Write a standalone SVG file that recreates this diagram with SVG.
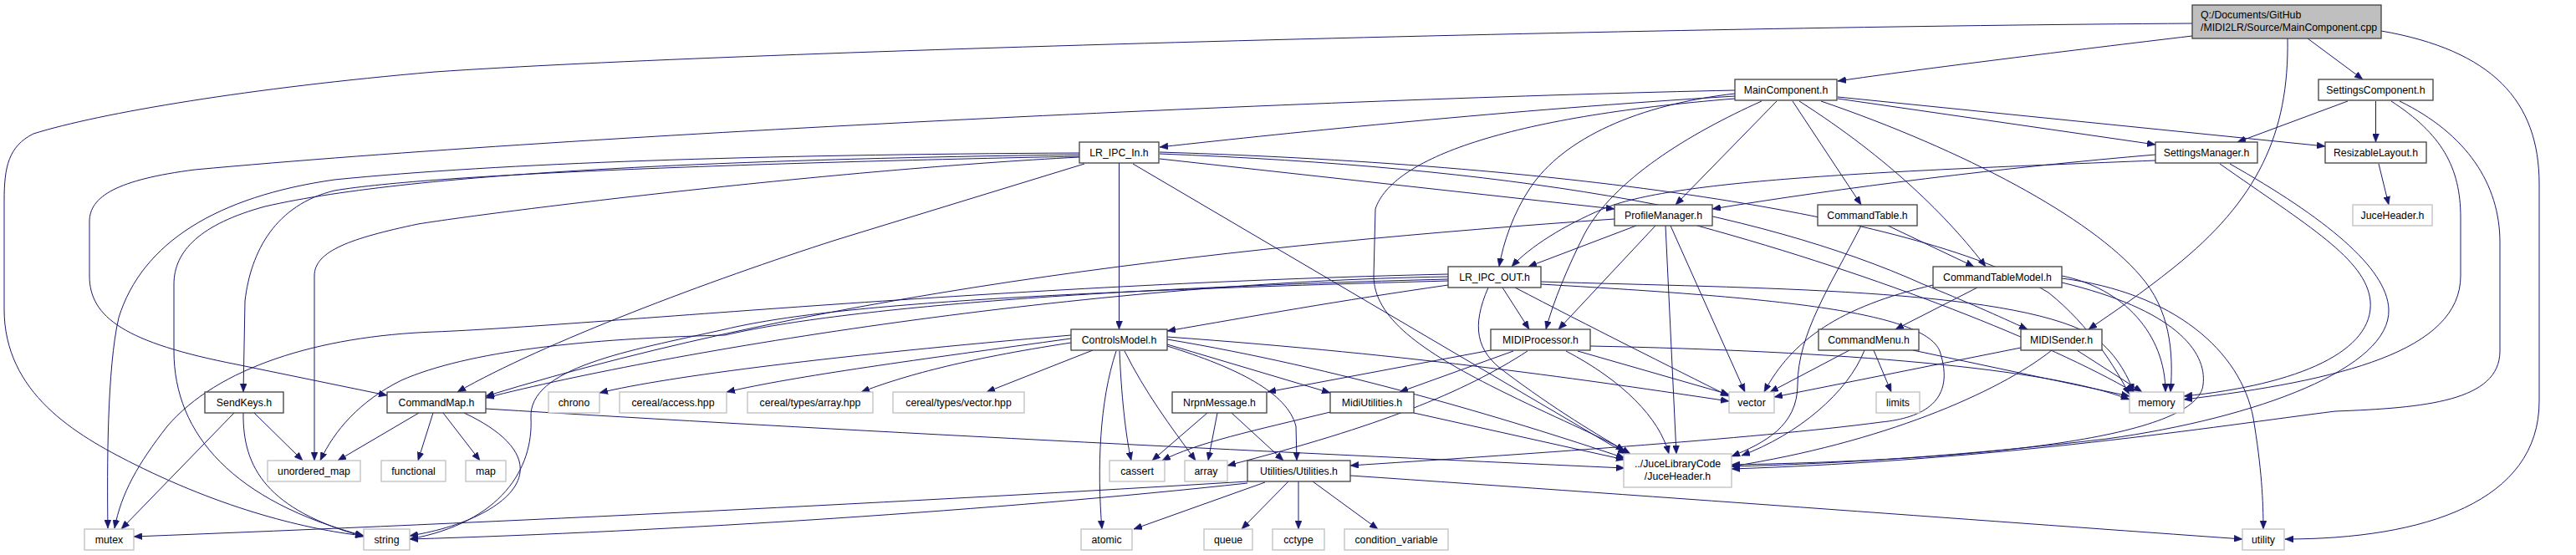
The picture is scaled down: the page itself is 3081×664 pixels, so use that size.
<svg xmlns="http://www.w3.org/2000/svg" width="3081" height="664" viewBox="0 0 3081 664">
<defs>
<marker id="ah" markerUnits="userSpaceOnUse" markerWidth="11" markerHeight="8" refX="10" refY="4" orient="auto">
<path d="M0,0 L10,4 L0,8 z" fill="#191970" stroke="#191970" stroke-width="0.5"/>
</marker>
<style>
.n rect{fill:#fff;stroke:#404040;stroke-width:1.3}
.x rect{fill:#fff;stroke:#bfbfbf;stroke-width:1.3}
text{font-family:"Liberation Sans",Arial,sans-serif;font-size:12.3px;fill:#000;text-anchor:middle}
#edges path{fill:none;stroke:#191970;stroke-width:1;marker-end:url(#ah)}
</style>
</defs>
<rect width="3081" height="664" fill="#fff"/>
<g id="edges">
<path d="M2622,43 C2480,60 2300,82 2198,97"/>
<path d="M2760,46 L2826,95"/>
<path d="M2736,46 C2738,160 2700,240 2600,320 C2560,352 2530,372 2498,394"/>
<path d="M2622,28 C2000,32 900,60 520,86 C300,105 120,135 40,160 C10,175 5,200 5,240 L5,370 C5,470 90,520 160,555 C280,615 380,635 435,641"/>
<path d="M2848,37 C2980,60 3037,120 3037,220 L3037,480 C3037,600 2900,645 2733,645"/>
<path d="M2075,115 C1800,132 1550,158 1387,176"/>
<path d="M2075,108 C1600,118 700,160 233,203 C140,215 107,235 107,265 L107,330 C107,380 150,410 283,436 L463,473"/>
<path d="M2075,112 C1960,125 1870,165 1830,225 C1810,255 1798,290 1793,319"/>
<path d="M2125,121 L2004,245"/>
<path d="M2107,121 C2020,160 1930,215 1895,280 C1875,320 1858,360 1849,394"/>
<path d="M2075,118 C1800,140 1665,190 1645,250 L1643,330 C1643,380 1700,420 1790,465 C1860,500 1910,520 1943,539"/>
<path d="M2144,121 L2226,245"/>
<path d="M2152,121 C2260,190 2330,260 2375,319"/>
<path d="M2178,121 C2350,180 2500,260 2560,330 C2595,370 2600,420 2596,469"/>
<path d="M2198,116 L2781,175"/>
<path d="M2198,118 L2578,173"/>
<path d="M2808,121 L2676,170"/>
<path d="M2841.5,121 L2841.5,170"/>
<path d="M2860,121 C2920,160 2943,200 2943,260 L2943,330 C2943,420 2800,455 2612,478"/>
<path d="M2870,121 C2950,160 2990,220 2990,290 L2990,420 C2990,480 2900,488 2793,492 C2650,510 2400,550 2071,561"/>
<path d="M2578,185 C2400,200 2200,225 2048,250"/>
<path d="M2578,192 C2250,205 2000,215 1917,250 C1870,270 1830,295 1808,319"/>
<path d="M2655,196 C2760,270 2830,310 2835,360 C2840,420 2750,460 2612,474"/>
<path d="M2667,196 C2780,260 2855,320 2857,370 C2860,440 2700,500 2520,525 C2350,545 2200,555 2071,558"/>
<path d="M2845,196 L2857,245"/>
<path d="M1291,183 C900,185 600,195 400,215 C260,235 170,290 142,380 C128,440 128,560 129,632"/>
<path d="M1291,185 C900,190 500,205 317,247 C240,268 208,300 208,340 L208,420 C208,520 280,600 435,641"/>
<path d="M1291,187 C900,195 520,208 400,228 C330,245 300,300 293,360 L291,469"/>
<path d="M1291,188 C1000,203 600,252 500,268 C420,285 376,300 376,330 L376,551"/>
<path d="M1297,196 L1000,287 C850,335 650,410 547,469"/>
<path d="M1338.5,195 L1338.5,394"/>
<path d="M1387,190 L1931,250"/>
<path d="M1355,196 L1945,543"/>
<path d="M1387,184 C1800,200 2100,250 2300,340 C2350,360 2390,378 2425,394"/>
<path d="M1387,182 C1900,198 2300,260 2450,350 C2500,390 2530,440 2547,472"/>
<path d="M1957,270 L1828,319"/>
<path d="M1931,262 C1500,292 1000,345 581,474"/>
<path d="M1980,270 L1864,394"/>
<path d="M1992,270 L2005,543"/>
<path d="M1998,270 L2087,469"/>
<path d="M2030,270 C2250,330 2450,410 2552,469"/>
<path d="M1732,331 C1300,338 800,420 581,476"/>
<path d="M1732,341 C1600,360 1500,378 1396,396"/>
<path d="M1732,328 C1200,340 700,390 520,397 C380,402 260,440 200,510 C165,555 145,590 137,632"/>
<path d="M1732,334 C1300,345 1000,370 867,401 C700,405 560,420 480,455 C430,480 400,515 383,551"/>
<path d="M1732,336 C1300,348 1000,362 867,394 C750,420 632,440 635,500 C638,560 600,625 490,645"/>
<path d="M1797,344 L1829,394"/>
<path d="M1780,344 C1760,390 1765,420 1800,445 C1860,490 1910,520 1950,543"/>
<path d="M1812,344 C1900,390 2000,440 2068,474"/>
<path d="M1843,337 C2100,345 2400,345 2500,400 C2530,420 2545,450 2552,469"/>
<path d="M1843,340 C2100,355 2300,370 2320,420 C2340,480 2300,500 2250,505 C2100,525 1800,545 1615,557"/>
<path d="M1281,401 C1000,425 800,450 717,470"/>
<path d="M1281,405 C1100,430 950,450 869,469"/>
<path d="M1281,410 C1150,430 1080,450 1030,469"/>
<path d="M1307,419 L1180,469"/>
<path d="M1335,420 C1315,480 1312,560 1318,633"/>
<path d="M1339,420 C1341,470 1346,520 1353,551"/>
<path d="M1345,420 C1370,470 1400,510 1430,551"/>
<path d="M1396,412 L1591,470"/>
<path d="M1396,414 C1480,440 1540,470 1550,510 L1551,551"/>
<path d="M1396,403 C1700,425 1900,455 2068,480"/>
<path d="M1396,406 C1600,440 1800,500 1943,548"/>
<path d="M1783,419 L1516,469"/>
<path d="M1810,420 L1674,469"/>
<path d="M1827,420 C1750,470 1650,510 1468,557"/>
<path d="M1873,420 C1940,455 1985,500 1996,543"/>
<path d="M1887,420 L2068,472"/>
<path d="M1902,414 C2200,420 2450,440 2547,478"/>
<path d="M1591,493 C1500,515 1430,530 1390,551"/>
<path d="M1691,494 L1943,550"/>
<path d="M1444,494 L1378,551"/>
<path d="M1456,494 L1445,551"/>
<path d="M1473,494 L1535,551"/>
<path d="M1492,576 C1100,600 600,625 160,642"/>
<path d="M1492,578 C1200,610 800,636 490,645"/>
<path d="M1513,577 L1356,633"/>
<path d="M1541,576 L1485,633"/>
<path d="M1553,576 L1553,633"/>
<path d="M1570,576 L1648,633"/>
<path d="M1615,569 C2000,595 2400,625 2682,645"/>
<path d="M501,494 L404,551"/>
<path d="M518,494 L500,551"/>
<path d="M530,494 L574,551"/>
<path d="M555,494 C600,515 625,540 622,565 C618,600 560,630 490,641"/>
<path d="M581,489 C1000,515 1500,540 1943,560"/>
<path d="M280,494 L145,633"/>
<path d="M291,494 C290,560 320,610 435,642"/>
<path d="M304,494 L362,551"/>
<path d="M2258,270 L2361,319"/>
<path d="M2226,270 C2190,340 2150,400 2150,460 C2150,510 2110,530 2071,546"/>
<path d="M2365,344 L2267,394"/>
<path d="M2312,341 C2200,367 2143,407 2110,469"/>
<path d="M2466,330 C2540,345 2590,400 2590,469"/>
<path d="M2466,333 C2600,350 2680,420 2695,500 C2705,560 2707,600 2707,633"/>
<path d="M2466,338 C2600,370 2640,420 2635,460 C2630,520 2400,550 2071,556"/>
<path d="M2212,419 L2117,469"/>
<path d="M2241,419 L2262,469"/>
<path d="M2230,419 C2210,470 2150,520 2083,545"/>
<path d="M2288,419 L2547,474"/>
<path d="M2417,416 L2122,475"/>
<path d="M2484,419 L2562,469"/>
<path d="M2454,419 C2390,470 2250,530 2071,558"/>
</g>
<g id="node-cpp"><rect x="2622" y="6" width="226" height="40" fill="#bfbfbf" stroke="#404040" stroke-width="1.3"/><text x="2632" y="21.5" style="text-anchor:start">Q:/Documents/GitHub</text><text x="2632" y="36.5" style="text-anchor:start">/MIDI2LR/Source/MainComponent.cpp</text></g>
<g id="node-MainComponent" class="n"><rect x="2075" y="95" width="122" height="25"/><text x="2136" y="112">MainComponent.h</text></g>
<g id="node-SettingsComponent" class="n"><rect x="2773" y="95" width="137" height="25"/><text x="2841.5" y="112">SettingsComponent.h</text></g>
<g id="node-LR_IPC_In" class="n"><rect x="1291" y="170" width="95" height="25"/><text x="1338.5" y="187">LR_IPC_In.h</text></g>
<g id="node-SettingsManager" class="n"><rect x="2578" y="170" width="122" height="25"/><text x="2639" y="187">SettingsManager.h</text></g>
<g id="node-ResizableLayout" class="n"><rect x="2781" y="170" width="121" height="25"/><text x="2841.5" y="187">ResizableLayout.h</text></g>
<g id="node-ProfileManager" class="n"><rect x="1931" y="245" width="117" height="25"/><text x="1989.5" y="262">ProfileManager.h</text></g>
<g id="node-CommandTable" class="n"><rect x="2174" y="245" width="119" height="25"/><text x="2233.5" y="262">CommandTable.h</text></g>
<g id="node-JuceHeader" class="x"><rect x="2814" y="245" width="95" height="25"/><text x="2861.5" y="262">JuceHeader.h</text></g>
<g id="node-LR_IPC_OUT" class="n"><rect x="1732" y="319" width="111" height="25"/><text x="1787.5" y="336">LR_IPC_OUT.h</text></g>
<g id="node-CommandTableModel" class="n"><rect x="2312" y="319" width="154" height="25"/><text x="2389" y="336">CommandTableModel.h</text></g>
<g id="node-ControlsModel" class="n"><rect x="1281" y="394" width="115" height="25"/><text x="1338.5" y="411">ControlsModel.h</text></g>
<g id="node-MIDIProcessor" class="n"><rect x="1783" y="394" width="119" height="25"/><text x="1842.5" y="411">MIDIProcessor.h</text></g>
<g id="node-CommandMenu" class="n"><rect x="2175" y="394" width="120" height="25"/><text x="2235" y="411">CommandMenu.h</text></g>
<g id="node-MIDISender" class="n"><rect x="2417" y="394" width="97" height="25"/><text x="2465.5" y="411">MIDISender.h</text></g>
<g id="node-SendKeys" class="n"><rect x="245" y="469" width="94" height="25"/><text x="292" y="486">SendKeys.h</text></g>
<g id="node-CommandMap" class="n"><rect x="463" y="469" width="118" height="25"/><text x="522" y="486">CommandMap.h</text></g>
<g id="node-chrono" class="x"><rect x="656" y="469" width="61" height="25"/><text x="686.5" y="486">chrono</text></g>
<g id="node-cereal-access" class="x"><rect x="741" y="469" width="128" height="25"/><text x="805" y="486">cereal/access.hpp</text></g>
<g id="node-cereal-array" class="x"><rect x="894" y="469" width="150" height="25"/><text x="969" y="486">cereal/types/array.hpp</text></g>
<g id="node-cereal-vector" class="x"><rect x="1068" y="469" width="157" height="25"/><text x="1146.5" y="486">cereal/types/vector.hpp</text></g>
<g id="node-NrpnMessage" class="n"><rect x="1402" y="469" width="113" height="25"/><text x="1458.5" y="486">NrpnMessage.h</text></g>
<g id="node-MidiUtilities" class="n"><rect x="1591" y="469" width="100" height="25"/><text x="1641" y="486">MidiUtilities.h</text></g>
<g id="node-vector" class="x"><rect x="2068" y="469" width="54" height="25"/><text x="2095" y="486">vector</text></g>
<g id="node-limits" class="x"><rect x="2244" y="469" width="52" height="25"/><text x="2270" y="486">limits</text></g>
<g id="node-memory" class="x"><rect x="2547" y="469" width="65" height="25"/><text x="2579.5" y="486">memory</text></g>
<g id="node-unordered_map" class="x"><rect x="320" y="551" width="111" height="25"/><text x="375.5" y="568">unordered_map</text></g>
<g id="node-functional" class="x"><rect x="456" y="551" width="77" height="25"/><text x="494.5" y="568">functional</text></g>
<g id="node-map" class="x"><rect x="557" y="551" width="48" height="25"/><text x="581" y="568">map</text></g>
<g id="node-cassert" class="x"><rect x="1327" y="551" width="66" height="25"/><text x="1360" y="568">cassert</text></g>
<g id="node-array" class="x"><rect x="1417" y="551" width="51" height="25"/><text x="1442.5" y="568">array</text></g>
<g id="node-Utilities" class="n"><rect x="1492" y="551" width="123" height="25"/><text x="1553.5" y="568">Utilities/Utilities.h</text></g>
<g id="node-JuceLib" class="x"><rect x="1942" y="543" width="129" height="40"/><text x="2006.5" y="559">../JuceLibraryCode</text><text x="2006.5" y="574">/JuceHeader.h</text></g>
<g id="node-mutex" class="x"><rect x="101" y="633" width="59" height="25"/><text x="130.5" y="650">mutex</text></g>
<g id="node-string" class="x"><rect x="435" y="633" width="55" height="25"/><text x="462.5" y="650">string</text></g>
<g id="node-atomic" class="x"><rect x="1293" y="633" width="61" height="25"/><text x="1323.5" y="650">atomic</text></g>
<g id="node-queue" class="x"><rect x="1440" y="633" width="58" height="25"/><text x="1469" y="650">queue</text></g>
<g id="node-cctype" class="x"><rect x="1522" y="633" width="62" height="25"/><text x="1553" y="650">cctype</text></g>
<g id="node-condition_variable" class="x"><rect x="1608" y="633" width="124" height="25"/><text x="1670" y="650">condition_variable</text></g>
<g id="node-utility" class="x"><rect x="2682" y="633" width="50" height="25"/><text x="2707" y="650">utility</text></g>
</svg>
